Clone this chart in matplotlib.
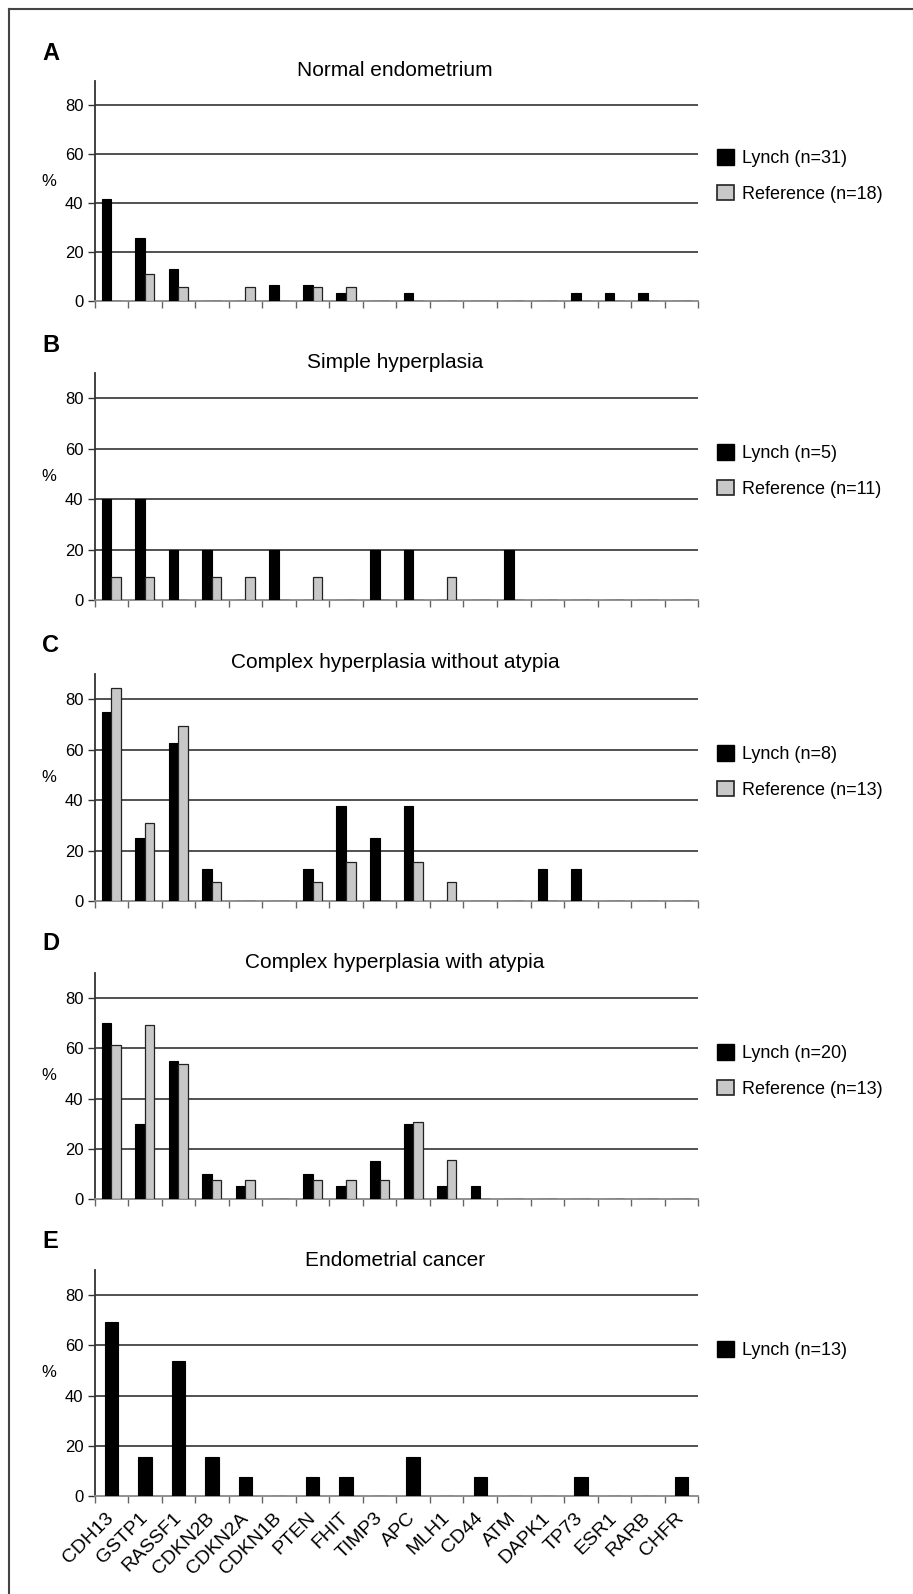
import numpy as np
import matplotlib
matplotlib.use('Agg')
import matplotlib.pyplot as plt
from matplotlib.patches import Patch
from matplotlib.lines import Line2D
import matplotlib.transforms as mtransforms

plt.rcParams['font.family'] = ['Liberation Sans', 'DejaVu Sans']

genes = ['CDH13', 'GSTP1', 'RASSF1', 'CDKN2B', 'CDKN2A', 'CDKN1B', 'PTEN', 'FHIT', 'TIMP3',
         'APC', 'MLH1', 'CD44', 'ATM', 'DAPK1', 'TP73', 'ESR1', 'RARB', 'CHFR']

# % methylated
lynch_a = [41.9, 25.8, 12.9, 0, 0, 6.5, 6.5, 3.2, 0, 3.2, 0, 0, 0, 0, 3.2, 3.2, 3.2, 0]
ref_a = [0, 11.1, 5.6, 0, 5.6, 0, 5.6, 5.6, 0, 0, 0, 0, 0, 0, 0, 0, 0, 0]
lynch_b = [40, 40, 20, 20, 0, 20, 0, 0, 20, 20, 0, 0, 20, 0, 0, 0, 0, 0]
ref_b = [9.1, 9.1, 0, 9.1, 9.1, 0, 9.1, 0, 0, 0, 9.1, 0, 0, 0, 0, 0, 0, 0]
lynch_c = [75, 25, 62.5, 12.5, 0, 0, 12.5, 37.5, 25, 37.5, 0, 0, 0, 12.5, 12.5, 0, 0, 0]
ref_c = [84.6, 30.8, 69.2, 7.7, 0, 0, 7.7, 15.4, 0, 15.4, 7.7, 0, 0, 0, 0, 0, 0, 0]
lynch_d = [70, 30, 55, 10, 5, 0, 10, 5, 15, 30, 5, 5, 0, 0, 0, 0, 0, 0]
ref_d = [61.5, 69.2, 53.8, 7.7, 7.7, 0, 7.7, 7.7, 7.7, 30.8, 15.4, 0, 0, 0, 0, 0, 0, 0]
lynch_e = [69.2, 15.4, 53.8, 15.4, 7.7, 0, 7.7, 7.7, 0, 15.4, 0, 7.7, 0, 0, 7.7, 0, 0, 7.7]

titles = ['Normal endometrium', 'Simple hyperplasia', 'Complex hyperplasia without atypia',
          'Complex hyperplasia with atypia', 'Endometrial cancer']
letters = ['A', 'B', 'C', 'D', 'E']
lynch_labels = ['Lynch (n=31)', 'Lynch (n=5)', 'Lynch (n=8)', 'Lynch (n=20)', 'Lynch (n=13)']
ref_labels = ['Reference (n=18)', 'Reference (n=11)', 'Reference (n=13)', 'Reference (n=13)', None]
lynch_all = [lynch_a, lynch_b, lynch_c, lynch_d, lynch_e]
ref_all = [ref_a, ref_b, ref_c, ref_d, None]

W, H = 913, 1594
fig = plt.figure(figsize=(W / 100, H / 100), dpi=100)

def fx(x):
    return x / W

def fy(y):
    return 1 - y / H

# layout in pixels: (axis top, axis bottom, letter y, title y, legend y)
boxes = [(81, 301, 53, 70, 176),
         (373, 600, 346, 363, 471),
         (674, 901, 645, 663, 772),
         (973, 1199, 944, 963, 1071),
         (1270, 1496, 1242, 1261, 1350)]
left_px, right_px = 94.5, 698.3

# frame (only top and left edges are inside the image)
fig.add_artist(Line2D([fx(8.5), fx(8.5)], [0, fy(8.5)], color='#444444', lw=1.5))
fig.add_artist(Line2D([fx(8.5), 1], [fy(8.5), fy(8.5)], color='#444444', lw=1.5))

black = '#000000'
grey = '#c8c8c8'
n = len(genes)
x = np.arange(n)

for k in range(5):
    top, bot, ly, ty, gy = boxes[k]
    ax = fig.add_axes([fx(left_px), fy(bot), fx(right_px - left_px), (bot - top) / H])
    lyn = lynch_all[k]
    ref = ref_all[k]
    if ref is not None:
        w = 1 / 3.5
        ax.bar(x + 0.5 - w / 2, lyn, w, color=black, edgecolor=black, lw=0.8, zorder=3)
        ax.bar(x + 0.5 + w / 2, ref, w, color=grey, edgecolor='#222222', lw=0.9, zorder=3)
    else:
        ax.bar(x + 0.5, lyn, 0.4, color=black, edgecolor=black, lw=0.8, zorder=3)

    ax.set_xlim(0, n)
    ax.set_ylim(0, 90)
    ax.set_yticks([0, 20, 40, 60, 80])
    for v in [20, 40, 60, 80]:
        ax.axhline(v, color='#333333', lw=1.2, zorder=1)
    for s in ['top', 'right']:
        ax.spines[s].set_visible(False)
    ax.spines['left'].set_color('#333333')
    ax.spines['left'].set_linewidth(1.3)
    ax.spines['bottom'].set_color('#888888')
    ax.spines['bottom'].set_linewidth(1.3)
    ax.tick_params(axis='y', direction='out', length=5, width=1, color='#333333',
                   labelsize=12, pad=3)
    ax.set_xticks(np.arange(n + 1))
    ax.set_xticklabels([])
    ax.tick_params(axis='x', which='major', direction='out', length=5, width=1, color='#666666')
    if k == 4:
        ax.set_xticks(x + 0.5, minor=True)
        ax.set_xticklabels(genes, minor=True, rotation=45, ha='right', va='center',
                           rotation_mode='anchor', fontsize=14)
        ax.tick_params(axis='x', which='minor', length=0, pad=14)

    trans = mtransforms.blended_transform_factory(fig.transFigure, ax.transData)
    ax.text(fx(49), 49, '%', transform=trans, fontsize=12, ha='center', va='center')

    fig.text(fx(42), fy(ly), letters[k], fontsize=17, weight='bold', ha='left', va='center')
    fig.text(fx(395), fy(ty), titles[k], fontsize=15, ha='center', va='center')

    handles = [Patch(facecolor=black, edgecolor=black, label=lynch_labels[k])]
    if ref is not None:
        handles.append(Patch(facecolor=grey, edgecolor='#222222', lw=1.2, label=ref_labels[k]))
    ax.legend(handles=handles, loc='center left', bbox_to_anchor=(fx(717), fy(gy)),
              bbox_transform=fig.transFigure, frameon=False, fontsize=13,
              handlelength=0.95, handleheight=0.95, handletextpad=0.45,
              labelspacing=0.95, borderpad=0, borderaxespad=0)

fig.savefig('out.png', dpi=100, facecolor='white')
